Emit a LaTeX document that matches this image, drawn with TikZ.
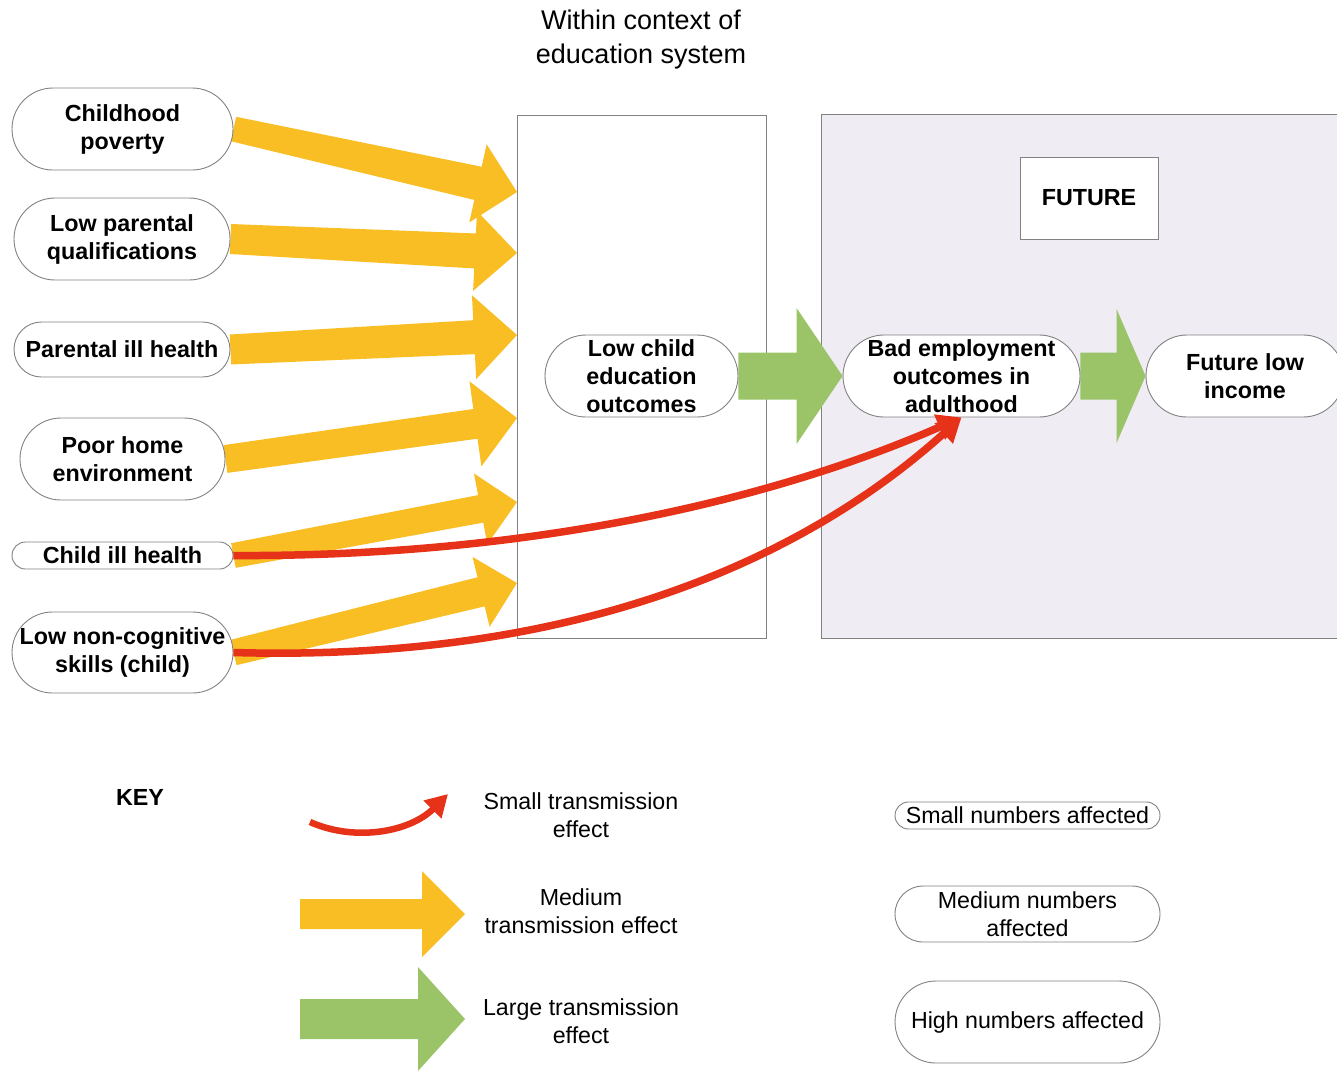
\documentclass[tikz,border=0pt]{standalone}
\usepackage{fontspec}
\setmainfont{Liberation Sans}
\usetikzlibrary{calc,arrows.meta}

\definecolor{medyellow}{RGB}{248,190,36}
\definecolor{biggreen}{RGB}{155,196,104}
\definecolor{smallred}{RGB}{230,50,25}
\definecolor{futurefill}{RGB}{239,236,244}
\definecolor{linegray}{RGB}{130,130,130}

\pgfdeclarelayer{boxes}
\pgfdeclarelayer{arrows}
\pgfsetlayers{boxes,arrows,main}

\begin{document}
\begin{tikzpicture}[x=1pt,y=-1pt,
  pill/.style 2 args={draw=linegray, line width=0.9pt, fill=white,
    rounded corners={0.5*#2-0.01pt}, minimum width=#1, minimum height=#2,
    inner sep=0pt, align=center},
  boldtxt/.style={font=\fontsize{23.3pt}{28pt}\selectfont\bfseries},
  keytxt/.style={font=\fontsize{23.2pt}{28pt}\selectfont},
  panel/.style={draw=linegray, line width=1pt, inner sep=0pt},
  % block arrow: start half-width, shaft end half-width, head half-width, head length
  fat/.style n args={4}{to path={
    ($(\tikztostart)!#1!90:(\tikztotarget)$)
    -- ($($(\tikztotarget)!#4!(\tikztostart)$)!#2!90:(\tikztotarget)$)
    -- ($($(\tikztotarget)!#4!(\tikztostart)$)!#3!90:(\tikztotarget)$)
    -- (\tikztotarget)
    -- ($($(\tikztotarget)!#4!(\tikztostart)$)!#3!-90:(\tikztotarget)$)
    -- ($($(\tikztotarget)!#4!(\tikztostart)$)!#2!-90:(\tikztotarget)$)
    -- ($(\tikztostart)!#1!-90:(\tikztotarget)$)
    -- cycle}},
  medium/.style={fill=medyellow, draw=none},
  large/.style={fill=biggreen, draw=none},
  smalleffect/.style={draw=smallred, line width=7.5pt,
    -{Triangle[length=24pt,width=26pt]}},
]
\useasboundingbox (0,0) rectangle (1337,1071);

% frames
\begin{pgfonlayer}{boxes}
  \node[panel, fill=white, minimum width=249pt, minimum height=523pt] (edubox) at (641.5,376.5) {};
  \node[panel, fill=futurefill, minimum width=524pt, minimum height=524pt] (futbox) at (1083,376) {};
  \node[panel, fill=white, minimum width=138pt, minimum height=82pt, boldtxt] (futlabel) at (1089,198) {FUTURE};
\end{pgfonlayer}

\node[font=\fontsize{27pt}{34pt}\selectfont, align=center] (title) at (641,40)
  {Within context of\\education system};

% causes
\node[pill={221pt}{82pt}, boldtxt] (cp)  at (122.5,129) {Childhood\\poverty};
\node[pill={216pt}{82pt}, boldtxt] (lpq) at (122,239) {Low parental\\qualifications};
\node[pill={216pt}{55pt}, boldtxt] (pih) at (122,349.5) {Parental ill health};
\node[pill={205pt}{82pt}, boldtxt] (phe) at (122.5,459) {Poor home\\environment};
\node[pill={221pt}{27pt}, boldtxt] (cih) at (122.5,555.5) {Child ill health};
\node[pill={221pt}{81pt}, boldtxt] (lnc) at (122.5,652.5) {Low non-cognitive\\skills (child)};

% outcomes
\node[pill={193pt}{82pt}, boldtxt] (edu) at (641.5,376) {Low child\\education\\outcomes};
\node[pill={237pt}{82pt}, boldtxt] (bad) at (961.5,376) {Bad employment\\outcomes in\\adulthood};
\node[pill={198pt}{82pt}, boldtxt] (fli) at (1245,376) {Future low\\income};

% arrow tips on the edge of the education frame
\coordinate (t1) at (517,192);
\coordinate (t2) at (517,253);
\coordinate (t3) at (517,335);
\coordinate (t4) at (517,418);
\coordinate (t5) at (517,502);
\coordinate (t6) at (517,583);

\begin{pgfonlayer}{arrows}
  \path[medium] (cp.east)  to[fat={12.5pt}{17pt}{40pt}{40pt}] (t1);
  \path[medium] (lpq.east) to[fat={15pt}{17.5pt}{40pt}{42pt}] (t2);
  \path[medium] (pih.east) to[fat={15pt}{17pt}{42pt}{43pt}] (t3);
  \path[medium] (phe.east) to[fat={14pt}{15pt}{43pt}{42pt}] (t4);
  \path[medium] (cih.east) to[fat={12.5pt}{14pt}{36pt}{37pt}] (t5);
  \path[medium] (lnc.east) to[fat={13pt}{15pt}{36pt}{37pt}] (t6);
  \path[large] (edu.east) to[fat={23.5pt}{23.5pt}{68pt}{46pt}] (bad.west);
  \path[large] (bad.east) to[fat={23.5pt}{23.5pt}{67pt}{29pt}] (fli.west);
\end{pgfonlayer}

% small effects
\draw[smalleffect] (cih.east) .. controls (500,557) and (750,510) .. (bad.south);
\draw[smalleffect] (lnc.east) .. controls (600,663) and (820,545) .. (bad.south);

% key
\node[boldtxt] (key) at (140,797) {KEY};

\coordinate (ks1) at (310,822);
\coordinate (ke1) at (448,794);
\draw[smalleffect, line width=6.5pt, -{Triangle[length=22pt,width=24pt]}]
  (ks1) .. controls (355,842) and (410,832) .. (ke1);
\node[keytxt, align=center] (ktx1) at (581,815) {Small transmission\\effect};

\coordinate (ks2) at (300,914);
\coordinate (ke2) at (465,914);
\path[medium] (ks2) to[fat={15pt}{15pt}{43pt}{43pt}] (ke2);
\node[keytxt, align=center] (ktx2) at (581,911) {Medium\\transmission effect};

\coordinate (ks3) at (300,1019);
\coordinate (ke3) at (465,1019);
\path[large] (ks3) to[fat={20pt}{20pt}{52pt}{47pt}] (ke3);
\node[keytxt, align=center] (ktx3) at (581,1021) {Large transmission\\effect};

\node[pill={265pt}{27pt}, keytxt] (kps) at (1027.5,815.5) {Small numbers affected};
\node[pill={265pt}{56pt}, keytxt] (kpm) at (1027.5,914) {Medium numbers\\affected};
\node[pill={265pt}{82pt}, keytxt] (kph) at (1027.5,1022) {High numbers affected};
\end{tikzpicture}
\end{document}
